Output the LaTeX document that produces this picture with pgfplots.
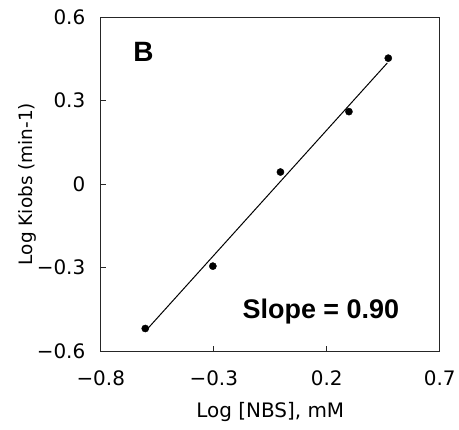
\documentclass[border=0pt]{standalone}
\usepackage{pgfplots}
\pgfplotsset{compat=1.18}
\usepackage{fontspec}
\setmainfont{DejaVu Sans}
\newfontfamily\boldfont{Liberation Sans}
\begin{document}
\begin{tikzpicture}
\begin{axis}[
  name=ax,
  scale only axis,
  width=340pt, height=335pt,
  xmin=-0.8, xmax=0.7, ymin=-0.6, ymax=0.6,
  xtick={-0.8,-0.3,0.2,0.7},
  xticklabels={−0.8,−0.3,0.2,0.7},
  ytick={-0.6,-0.3,0,0.3,0.6},
  yticklabels={−0.6,−0.3,0,0.3,0.6},
  tick align=inside,
  xtick pos=bottom, ytick pos=left,
  major tick length=5pt,
  axis line style={line width=0.9pt, black!85},
  tick style={line width=0.9pt, black!85},
  tick label style={font=\fontsize{20}{22}\selectfont},
  xticklabel style={yshift=-16pt},
  yticklabel style={xshift=-12pt},
  xlabel style={font=\fontsize{20}{22}\selectfont, at={(axis description cs:0.5,-0.182)}, anchor=center},
  ylabel style={font=\fontsize{18.5}{21}\selectfont, at={(axis description cs:-0.215,0.5)}, anchor=center},
  xlabel={Log [NBS], mM},
  ylabel={Log Kiobs (min-1)},
  clip=false,
]
\addplot[only marks, mark=*, mark size=3.6pt, black] coordinates {
  (-0.603,-0.519) (-0.304,-0.295) (-0.005,0.043) (0.298,0.260) (0.472,0.452)
};
\addplot[black, line width=1pt] coordinates {(-0.595,-0.522) (0.468,0.435)};
\node[font=\boldfont\fontsize{28}{30}\selectfont\bfseries] at (axis cs:-0.611,0.475) {B};
\node[font=\boldfont\fontsize{27}{29}\selectfont\bfseries] at (axis cs:0.174,-0.457) {Slope = 0.90};
\end{axis}
\path ([shift={(-101pt,-79pt)}]ax.south west) rectangle ([shift={(18pt,17pt)}]ax.north east);
\end{tikzpicture}
\end{document}
